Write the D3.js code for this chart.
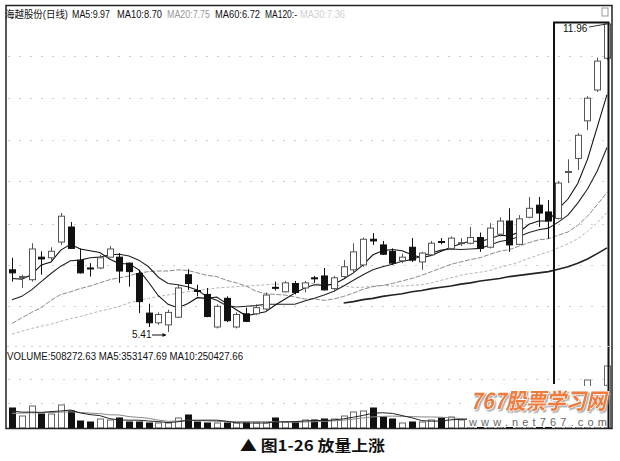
<!DOCTYPE html>
<html><head><meta charset="utf-8">
<script src="https://cdn.jsdelivr.net/npm/d3@7"></script>
<style>body{margin:0;background:#fff}svg{display:block}</style>
</head><body>
<svg id="c" width="620" height="461"></svg>
<script>
// ---------- data ----------
const opens  = [6.35,6.23,6.19,6.56,6.55,6.82,7.09,6.51,6.38,6.38,6.56,6.56,6.46,6.29,5.68,5.54,5.51,5.62,6.27,6.02,5.96,5.48,5.90,5.48,5.67,5.67,5.74,6.07,6.00,6.13,6.06,6.22,6.25,6.05,6.24,6.35,6.43,6.87,6.77,6.66,6.50,6.73,6.48,6.60,6.83,6.71,6.80,6.80,6.90,6.73,6.96,7.20,6.78,7.27,7.50,7.37,7.25,8.17,8.46,9.32,10.09,10.95];
const highs  = [6.55,6.27,6.80,6.66,6.73,7.35,7.18,6.71,6.46,6.60,6.75,6.63,6.47,6.35,5.82,5.69,5.73,6.12,6.36,6.11,6.06,5.81,5.93,5.69,5.76,5.81,5.99,6.16,6.17,6.17,6.17,6.25,6.38,6.25,6.51,6.80,6.90,6.98,6.84,6.71,6.62,6.89,6.65,6.84,6.89,6.92,6.89,7.09,6.99,7.16,7.27,7.44,7.31,7.66,7.66,7.60,7.98,8.44,9.03,9.93,10.97,11.96];
const lows   = [6.16,6.06,6.16,6.27,6.51,6.77,6.70,6.29,6.24,6.36,6.55,6.14,6.08,5.68,5.48,5.51,5.41,5.61,6.03,5.93,5.62,5.46,5.55,5.46,5.55,5.65,5.72,6.02,5.99,5.96,5.99,6.14,6.02,6.00,6.22,6.31,6.40,6.77,6.60,6.43,6.46,6.48,6.35,6.58,6.78,6.68,6.75,6.78,6.65,6.71,6.92,6.65,6.77,7.25,7.09,6.88,7.23,7.94,8.21,9.10,10.04,10.90];
const closes = [6.30,6.24,6.70,6.53,6.66,7.29,6.71,6.30,6.37,6.55,6.70,6.33,6.32,5.85,5.54,5.66,5.69,6.06,6.13,6.01,5.63,5.78,5.57,5.66,5.56,5.76,5.95,6.06,6.14,5.99,6.14,6.21,6.03,6.22,6.40,6.65,6.87,6.84,6.61,6.46,6.56,6.51,6.63,6.80,6.82,6.89,6.81,6.90,6.71,7.07,7.20,6.77,7.24,7.44,7.35,7.20,7.94,8.18,8.98,9.88,10.87,11.96];
const volumes = [164000,98400,180400,114800,114800,188600,139400,57400,49200,73800,65600,82000,49200,49200,41000,41000,41000,82000,106600,49200,41000,41000,41000,41000,41000,41000,41000,82000,49200,49200,65600,65600,73800,73800,98400,131200,139400,164000,90200,73800,41000,49200,49200,65600,82000,90200,65600,70000,90000,110000,100000,170000,150000,120000,130000,140000,198000,260000,290000,393500,314000,508272.63];

const ma5  = [6.21,6.20,6.27,6.43,6.48,6.68,6.78,6.70,6.67,6.64,6.53,6.45,6.45,6.35,6.15,5.94,5.81,5.76,5.82,5.91,5.90,5.92,5.82,5.73,5.64,5.67,5.70,5.80,5.89,5.98,6.06,6.11,6.10,6.12,6.20,6.30,6.43,6.60,6.67,6.69,6.67,6.60,6.55,6.59,6.66,6.73,6.79,6.84,6.83,6.88,6.94,6.93,7.00,7.14,7.20,7.20,7.43,7.62,7.93,8.44,9.17,9.97];
const ma10 = [5.88,5.93,6.03,6.16,6.29,6.41,6.50,6.51,6.55,6.56,6.60,6.61,6.58,6.51,6.40,6.23,6.13,6.11,6.08,6.03,5.92,5.87,5.79,5.77,5.78,5.79,5.81,5.81,5.81,5.81,5.86,5.90,5.95,6.01,6.09,6.18,6.27,6.35,6.40,6.44,6.49,6.52,6.58,6.63,6.68,6.70,6.69,6.70,6.71,6.77,6.83,6.86,6.92,6.99,7.04,7.07,7.18,7.31,7.54,7.82,8.19,8.70];
const ma20 = [5.53,5.61,5.69,5.76,5.87,5.96,6.00,6.05,6.09,6.14,6.19,6.22,6.25,6.30,6.32,6.33,6.33,6.35,6.34,6.30,6.26,6.24,6.18,6.14,6.09,6.01,5.97,5.96,5.95,5.92,5.89,5.89,5.87,5.89,5.93,5.98,6.04,6.08,6.10,6.13,6.17,6.21,6.26,6.32,6.38,6.44,6.48,6.52,6.55,6.61,6.66,6.69,6.75,6.81,6.86,6.88,6.94,7.00,7.12,7.29,7.51,7.75];
const ma30 = [5.38,5.42,5.46,5.49,5.52,5.56,5.60,5.63,5.67,5.71,5.74,5.78,5.83,5.87,5.90,5.93,5.95,5.98,6.00,6.02,6.04,6.06,6.07,6.08,6.09,6.10,6.11,6.12,6.12,6.13,6.13,6.13,6.11,6.10,6.09,6.07,6.07,6.09,6.10,6.09,6.09,6.10,6.11,6.14,6.18,6.22,6.26,6.29,6.31,6.34,6.39,6.43,6.48,6.54,6.60,6.65,6.72,6.79,6.88,7.01,7.17,7.36];
const ma60 = [null,null,null,null,null,null,null,null,null,null,null,null,null,null,null,null,null,null,null,null,null,null,null,null,null,null,null,null,null,null,null,null,null,null,5.83,5.85,5.88,5.90,5.93,5.95,5.97,6.00,6.02,6.05,6.07,6.09,6.12,6.14,6.17,6.19,6.21,6.24,6.26,6.28,6.30,6.32,6.36,6.40,6.46,6.53,6.62,6.72];
const volMa5  = [140000,130000,130000,128000,134480,139400,147600,123000,109880,101680,77080,65600,63960,63960,57400,52480,44280,50840,62320,63960,63960,63960,55760,42640,41000,41000,41000,49200,50840,52480,57400,62320,60680,65600,75440,88560,103320,121360,124640,119720,101680,83640,60680,55760,57400,67240,70520,74680,79560,85160,87120,108000,124000,130000,134000,142000,147600,169600,203600,256300,291100,353147.69];
const volMa10 = [120000,122000,125000,125000,127000,130000,132000,128000,122000,118080,108240,106600,93480,86920,79540,64780,54940,57400,63140,60680,58220,54120,53300,52480,52480,52480,52480,52480,46740,46740,49200,51660,54940,58220,63960,72980,82820,91020,95120,97580,95120,93480,91020,90200,88560,84460,77080,67680,67660,71280,77180,89260,99340,104780,109580,114560,127800,146800,166800,195150,216550,250427.66];

const priceGrid = [5.79,6.43,7.15,7.98,8.87,9.88,11.01];
const volGrid = [205000,401700];
const titleParts = [
  {t:"海越股份(日线)", x:5, w:63, c:"#111"},
  {t:"MA5:9.97", x:72, w:38, c:"#111"},
  {t:"MA10:8.70", x:117, w:45, c:"#111"},
  {t:"MA20:7.75", x:167, w:43, c:"#999"},
  {t:"MA60:6.72", x:215, w:45, c:"#111"},
  {t:"MA120:-", x:265, w:32, c:"#111"},
  {t:"MA30:7.36", x:300, w:45, c:"#d0d0d0"}
];
const volTitle = "VOLUME:508272.63 MA5:353147.69 MA10:250427.66";
const caption = "▲ 图1-26 放量上涨";

// ---------- scales ----------
const N = closes.length;
const svg = d3.select("#c");
const defs = svg.append("defs");
const f = defs.append("filter").attr("id", "sh").attr("x", "-10%").attr("y", "-20%").attr("width", "130%").attr("height", "150%");
f.append("feDropShadow").attr("dx", 1.5).attr("dy", 1.5).attr("stdDeviation", 0.6).attr("flood-color", "#999").attr("flood-opacity", 0.8);

const x = d3.scalePoint().domain(d3.range(N)).range([12, 607]);
const y = d3.scaleLog().domain([5.41, 11.96]).range([332, 24]);
const yv = d3.scaleLinear().domain([0, 508272.63]).range([428, 366]);
const cx = i => Math.round(x(i)) + 0.5;

// grid
svg.append("g").selectAll("line").data(priceGrid).join("line")
  .attr("x1", 8).attr("x2", 611).attr("y1", d => Math.round(y(d)) + 0.5).attr("y2", d => Math.round(y(d)) + 0.5)
  .attr("stroke", "#cfcfcf").attr("stroke-width", 1).attr("stroke-dasharray", "2,9");
svg.append("g").selectAll("line").data(volGrid).join("line")
  .attr("x1", 8).attr("x2", 611).attr("y1", d => Math.round(yv(d)) + 0.5).attr("y2", d => Math.round(yv(d)) + 0.5)
  .attr("stroke", "#cfcfcf").attr("stroke-width", 1).attr("stroke-dasharray", "2,9");

// MA lines
const line = d3.line().defined(d => d != null).x((d, i) => x(i)).y(d => y(d));
const maDefs = [
  {d: ma30, c: "#b5b5b5", w: 1, dash: "3,2"},
  {d: ma20, c: "#8a8a8a", w: 1, dash: "5,1.5"},
  {d: ma60, c: "#222", w: 1.6, dash: null},
  {d: ma10, c: "#222", w: 1.1, dash: null},
  {d: ma5,  c: "#111", w: 1.1, dash: null}
];
maDefs.forEach(m => {
  svg.append("path").datum(m.d).attr("d", line).attr("fill", "none")
    .attr("stroke", m.c).attr("stroke-width", m.w).attr("stroke-dasharray", m.dash);
});

// candles
const up = i => closes[i] >= opens[i];
const cg = svg.append("g");
cg.selectAll("line").data(d3.range(N)).join("line")
  .attr("x1", cx).attr("x2", cx)
  .attr("y1", i => y(highs[i])).attr("y2", i => y(lows[i]))
  .attr("stroke", i => up(i) ? "#555" : "#111").attr("stroke-width", 1);
cg.selectAll("rect").data(d3.range(N)).join("rect")
  .attr("x", i => cx(i) - 3).attr("width", 6)
  .attr("y", i => y(Math.max(opens[i], closes[i])))
  .attr("height", i => Math.max(1, Math.abs(y(opens[i]) - y(closes[i]))))
  .attr("fill", i => up(i) ? "#fff" : "#111")
  .attr("stroke", i => up(i) ? "#555" : "#111").attr("stroke-width", 1);

// volume
const vg = svg.append("g");
vg.selectAll("rect").data(d3.range(N)).join("rect")
  .attr("x", i => cx(i) - 3).attr("width", 6)
  .attr("y", i => yv(volumes[i])).attr("height", i => yv(0) - yv(volumes[i]))
  .attr("fill", i => up(i) ? "#fff" : "#111")
  .attr("stroke", i => up(i) ? "#666" : "#111").attr("stroke-width", 1);
const vline = d3.line().x((d, i) => x(i)).y(d => yv(d));
svg.append("path").datum(volMa10).attr("d", vline).attr("fill", "none").attr("stroke", "#888").attr("stroke-width", 1);
svg.append("path").datum(volMa5).attr("d", vline).attr("fill", "none").attr("stroke", "#222").attr("stroke-width", 1);

// highlight rectangle (left side stops above the watermark)
svg.append("path").attr("d", "M554,384 V22.5 H608.5 V428")
  .attr("fill", "none").attr("stroke", "#111").attr("stroke-width", 2);

// watermark
svg.append("rect").attr("x", 467).attr("y", 386).attr("width", 140).attr("height", 41).attr("fill", "#fff");
svg.append("text").attr("x", 470).attr("y", 409).attr("textLength", 136).attr("lengthAdjust", "spacingAndGlyphs")
  .attr("font-family", "Noto Sans CJK SC").attr("font-weight", "bold").attr("font-style", "italic")
  .attr("font-size", 22).attr("fill", "#ef7b3e").attr("stroke", "#fff").attr("stroke-width", 1.2)
  .attr("paint-order", "stroke").attr("filter", "url(#sh)").text("767股票学习网");
svg.append("text").attr("x", 469).attr("y", 426).attr("textLength", 138).attr("lengthAdjust", "spacing")
  .attr("font-family", "Liberation Sans").attr("font-size", 11).attr("fill", "#666").text("www.net767.com");

// frame
svg.append("rect").attr("x", 6).attr("y", 5.5).attr("width", 606).attr("height", 423)
  .attr("fill", "none").attr("stroke", "#222").attr("stroke-width", 1.5);
svg.append("line").attr("x1", 7).attr("x2", 611).attr("y1", 346.5).attr("y2", 346.5)
  .attr("stroke", "#d0d0d0").attr("stroke-dasharray", "2,6");
svg.append("rect").attr("x", 602).attr("y", 8).attr("width", 6).attr("height", 8).attr("fill", "none").attr("stroke", "#999");

// texts
svg.append("g").selectAll("text").data(titleParts).join("text")
  .attr("x", d => d.x).attr("y", 18).attr("textLength", d => d.w).attr("lengthAdjust", "spacingAndGlyphs")
  .attr("font-family", "Liberation Sans, Noto Sans CJK SC").attr("font-size", 10).attr("fill", d => d.c).text(d => d.t);
svg.append("text").attr("x", 7).attr("y", 360).attr("textLength", 236).attr("lengthAdjust", "spacingAndGlyphs")
  .attr("font-family", "Liberation Sans").attr("font-size", 10).attr("fill", "#111").text(volTitle);

// low / high markers
const lowIdx = d3.minIndex(lows), highIdx = d3.maxIndex(highs);
svg.append("text").attr("x", 132).attr("y", y(lows[lowIdx]) + 6).attr("font-family", "Liberation Sans")
  .attr("font-size", 10).attr("fill", "#111").text(d3.format(".2f")(lows[lowIdx]));
svg.append("line").attr("x1", 152).attr("x2", cx(lowIdx) - 3).attr("y1", y(lows[lowIdx]) + 3).attr("y2", y(lows[lowIdx]) + 3)
  .attr("stroke", "#111");
svg.append("path").attr("d", `M${cx(lowIdx)-2},${y(lows[lowIdx]) + 3} l-4,-2 v4 z`).attr("fill", "#111");
svg.append("text").attr("x", 563).attr("y", 32).attr("font-family", "Liberation Sans")
  .attr("font-size", 10).attr("fill", "#111").text(d3.format(".2f")(highs[highIdx]));
svg.append("line").attr("x1", 589).attr("x2", cx(highIdx) - 1).attr("y1", 27).attr("y2", y(highs[highIdx]))
  .attr("stroke", "#333");

// caption
svg.append("text").attr("x", 240).attr("y", 451).attr("textLength", 145).attr("lengthAdjust", "spacingAndGlyphs")
  .attr("font-family", "Noto Sans CJK SC").attr("font-weight", "bold").attr("font-size", 15).attr("fill", "#111").text(caption);
</script>
</body></html>
